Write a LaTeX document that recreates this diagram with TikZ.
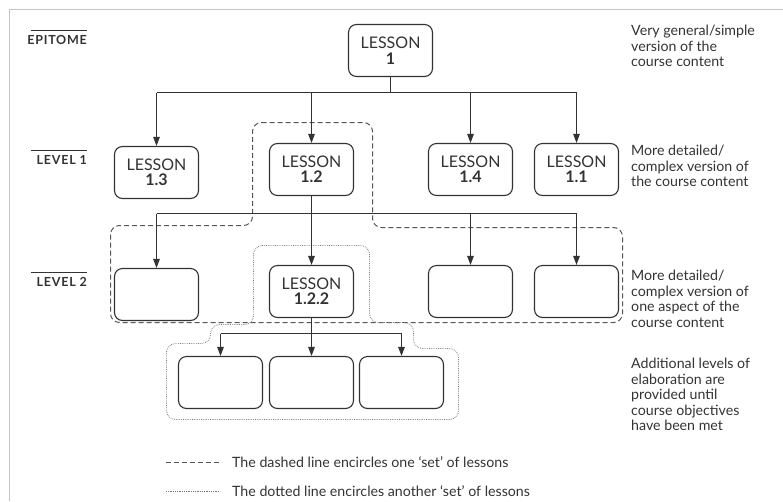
\documentclass[tikz,border=0pt]{standalone}
\usepackage{fontspec}
\setmainfont{Lato}
\usetikzlibrary{arrows.meta}
\definecolor{ink}{HTML}{333333}
\definecolor{framegray}{HTML}{C4C4C4}
\definecolor{setline}{HTML}{555555}
\definecolor{dotline}{HTML}{777777}
\begin{document}
\begin{tikzpicture}[x=1pt,y=-1pt,
  lesson/.style={draw=ink, line width=1.1pt, rounded corners=8pt,
    minimum width=84pt, minimum height=52pt, inner sep=0pt, align=center,
    font=\fontsize{16}{15.5}\selectfont, text=ink},
  wire/.style={draw=ink, line width=1.1pt},
  link/.style={wire, -{Triangle[length=9pt,width=6.5pt]}},
  levelname/.style={font=\fontsize{12.5}{13}\selectfont\bfseries\addfontfeatures{LetterSpace=6}, text=ink,
    inner sep=0pt, anchor=base east},
  levelrule/.style={draw=ink, line width=1pt},
  note/.style={font=\fontsize{14.2}{15.5}\selectfont, text=ink, align=left,
    inner sep=0pt, anchor=north west},
  legendtext/.style={font=\fontsize{14.2}{15.5}\selectfont, text=ink,
    inner sep=0pt, anchor=base west},
  dashset/.style={draw=setline, line width=1pt, dash pattern=on 5pt off 3pt,
    rounded corners=9pt},
  dotset/.style={draw=dotline, line width=0.8pt, dash pattern=on 0.7pt off 1.1pt,
    rounded corners=9pt},
]
\useasboundingbox (0,0) rectangle (783,501);

% page frame
\draw[framegray, line width=1pt] (9.5,501) -- (9.5,9.5) -- (783,9.5);

% level names with rules above
\draw[levelrule] (31,30.5) -- (87,30.5);
\node[levelname] (epi) at (87,44) {EPITOME};
\draw[levelrule] (31,150.5) -- (87,150.5);
\node[levelname] (lv1) at (87,164) {LEVEL 1};
\draw[levelrule] (31,272.5) -- (87,272.5);
\node[levelname] (lv2) at (87,286) {LEVEL 2};

% the two lesson sets
\draw[dashset] (252.5,122.5) -- (372.5,122.5) -- (372.5,227.5) -- (622.5,227.5)
  -- (622.5,322.5) -- (110.5,322.5) -- (110.5,225.5) -- (252.5,225.5) -- cycle;
\draw[dotset] (253.5,245.5) -- (369.5,245.5) -- (369.5,322.5) -- (413.5,322.5)
  -- (413.5,348.5) -- (458.5,348.5) -- (458.5,419.5) -- (166.5,419.5)
  -- (166.5,343.5) -- (210.5,343.5) -- (210.5,324.5) -- (253.5,324.5) -- cycle;

% lessons
\node[lesson] (L1) at (390.5,50.5) {LESSON\\\textbf{1}};
\node[lesson] (L13) at (156.5,172.5) {LESSON\\\textbf{1.3}};
\node[lesson] (L12) at (311.5,169.5) {LESSON\\\textbf{1.2}};
\node[lesson] (L14) at (470.5,169.5) {LESSON\\\textbf{1.4}};
\node[lesson] (L11) at (576.5,169.5) {LESSON\\\textbf{1.1}};

\node[lesson] (L2a) at (156.5,294.5) {};
\node[lesson] (L122) at (311.5,291.5) {LESSON\\\textbf{1.2.2}};
\node[lesson] (L2c) at (470.5,291.5) {};
\node[lesson] (L2d) at (576.5,291.5) {};

\node[lesson] (L3a) at (220.5,382.5) {};
\node[lesson] (L3b) at (311.5,382.5) {};
\node[lesson] (L3c) at (401.5,382.5) {};

% branching connectors: stem, bus, then one arrow down to each child
\coordinate (busA) at (0,92.5);
\coordinate (busB) at (0,213.5);
\coordinate (busC) at (0,333.5);

\draw[wire] (L1.south) -- (L1.south |- busA);
\draw[wire] (L13.north |- busA) -- (L11.north |- busA);
\foreach \c in {L13,L12,L14,L11}
  \draw[link] (\c.north |- busA) -- (\c.north);

\draw[wire] (L12.south) -- (L12.south |- busB);
\draw[wire] (L2a.north |- busB) -- (L2d.north |- busB);
\foreach \c in {L2a,L122,L2c,L2d}
  \draw[link] (\c.north |- busB) -- (\c.north);

\draw[wire] (L122.south) -- (L122.south |- busC);
\draw[wire] (L3a.north |- busC) -- (L3c.north |- busC);
\foreach \c in {L3a,L3b,L3c}
  \draw[link] (\c.north |- busC) -- (\c.north);

% notes on the right
\node[note] (n0) at (631,25) {Very general/simple\\version of the\\course content};
\node[note] (n1) at (631,145) {More detailed/\\complex version of\\the course content};
\node[note] (n2) at (631,270) {More detailed/\\complex version of\\one aspect of the\\course content};
\node[note] (n3) at (631,358) {Additional levels of\\elaboration are\\provided until\\course objectives\\have been met};

% legend
\coordinate (kA1) at (166,462.5);
\coordinate (kA2) at (220,462.5);
\draw[dashset] (kA1) -- (kA2);
\node[legendtext] (tA) at (232,467) {The dashed line encircles one ‘set’ of lessons};
\coordinate (kB1) at (166,491.5);
\coordinate (kB2) at (220,491.5);
\draw[dotset] (kB1) -- (kB2);
\node[legendtext] (tB) at (232,496) {The dotted line encircles another ‘set’ of lessons};
\end{tikzpicture}
\end{document}
